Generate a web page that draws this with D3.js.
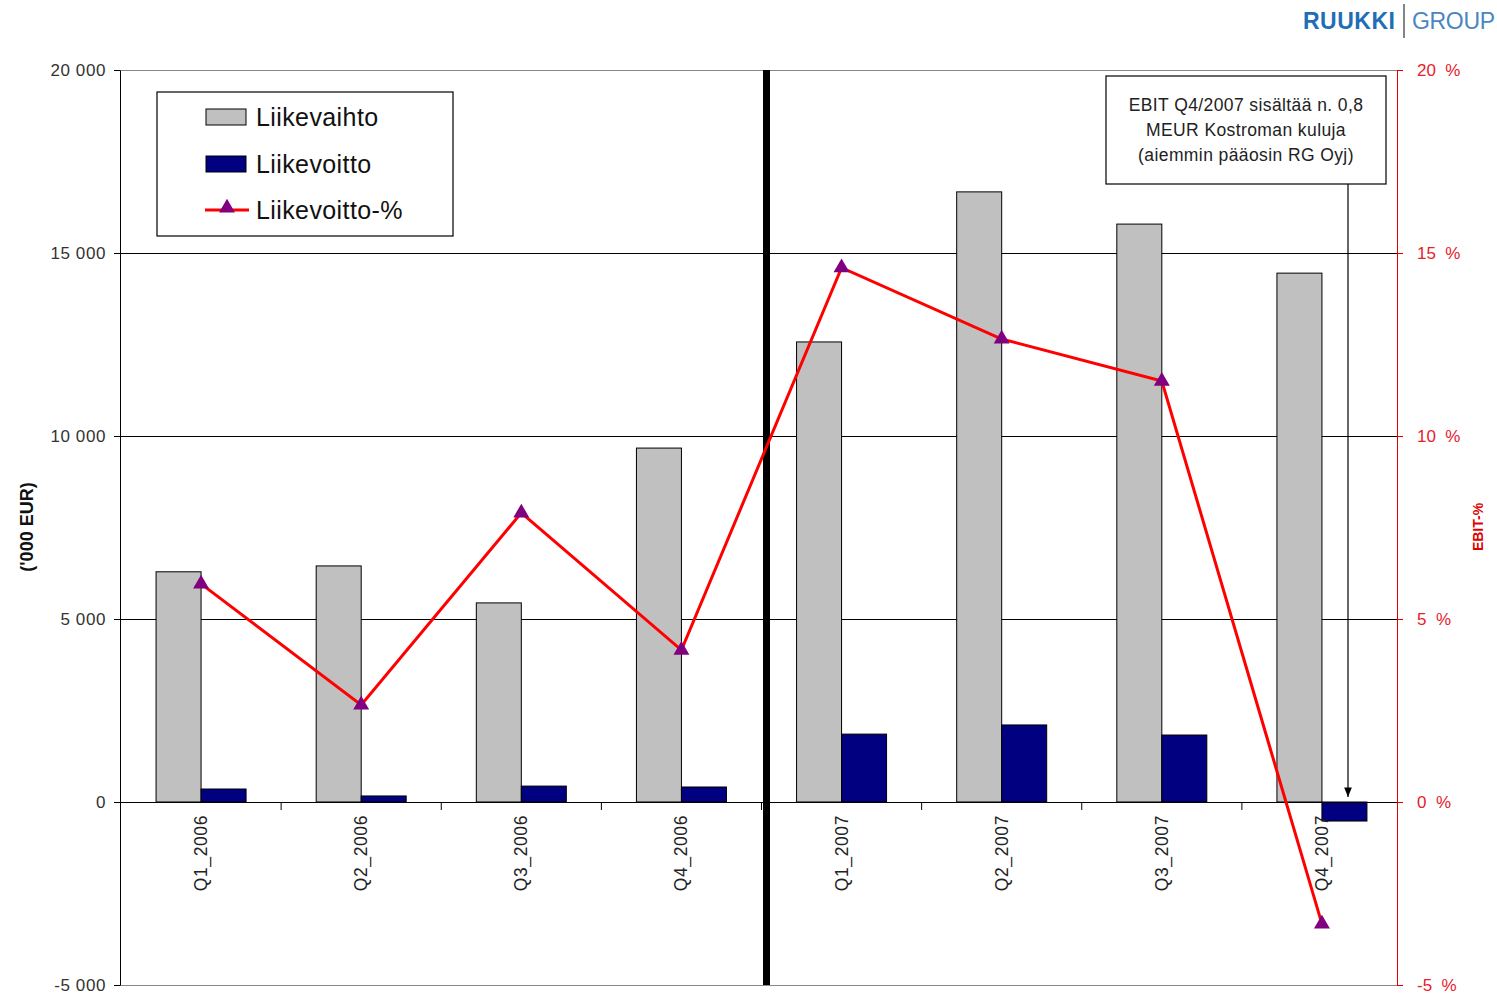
<!DOCTYPE html>
<html><head><meta charset="utf-8">
<script src="https://cdn.jsdelivr.net/npm/d3@7"></script>
<style>body{margin:0;background:#fff;font-family:Arial,"Liberation Sans",sans-serif}</style>
</head><body>
<svg id="c" width="1497" height="1000"></svg>
<script>
const categories = ["Q1_2006","Q2_2006","Q3_2006","Q4_2006","Q1_2007","Q2_2007","Q3_2007","Q4_2007"];
const liikevaihto = [6290, 6450, 5440, 9670, 12570, 16670, 15790, 14450];
const liikevoitto = [355, 165, 435, 410, 1855, 2105, 1830, -520];
const liikevoittoPct = [5.96, 2.65, 7.9, 4.15, 14.6, 12.65, 11.5, -3.33];
const leftTicks = [-5000, 0, 5000, 10000, 15000, 20000];
const rightTicks = [-5, 0, 5, 10, 15, 20];
const legendLabels = ["Liikevaihto", "Liikevoitto", "Liikevoitto-%"];
const noteLines = ["EBIT Q4/2007 sisältää n. 0,8", "MEUR Kostroman kuluja", "(aiemmin pääosin RG Oyj)"];

const svg = d3.select("#c");
const L = 120, R = 1397, T = 70, B = 985;
const x = d3.scaleBand().domain(categories).range([121, 1402]).paddingInner(0).paddingOuter(0);
const yL = d3.scaleLinear().domain([-5000, 20000]).range([B, T]);
const yR = d3.scaleLinear().domain([-5, 20]).range([B, T]);
const fmt = d => String(d).replace(/\B(?=(\d{3})+(?!\d))/g, " ");
const FF = "Arial, Liberation Sans, sans-serif";

// gridlines
svg.append("g").selectAll("line").data(leftTicks).join("line")
  .attr("x1", L).attr("x2", R).attr("y1", d => yL(d)).attr("y2", d => yL(d))
  .attr("stroke", d => (d === 20000 || d === -5000) ? "#888" : "#000").attr("stroke-width", 1)
  .attr("shape-rendering", "crispEdges");

// bars
const bw = 45;
const g = svg.append("g");
g.selectAll("rect.lv").data(categories).join("rect")
  .attr("x", d => x(d) + x.bandwidth()/2 - bw).attr("width", bw)
  .attr("y", (d,i) => yL(Math.max(0, liikevaihto[i])))
  .attr("height", (d,i) => Math.abs(yL(liikevaihto[i]) - yL(0)))
  .attr("fill", "#c0c0c0").attr("stroke", "#000").attr("stroke-width", 1);
g.selectAll("rect.lo").data(categories).join("rect")
  .attr("x", d => x(d) + x.bandwidth()/2).attr("width", bw)
  .attr("y", (d,i) => yL(Math.max(0, liikevoitto[i])))
  .attr("height", (d,i) => Math.abs(yL(liikevoitto[i]) - yL(0)))
  .attr("fill", "#000080").attr("stroke", "#000").attr("stroke-width", 1);

// zero line again on top
svg.append("line").attr("x1", L).attr("x2", R).attr("y1", yL(0)).attr("y2", yL(0))
  .attr("stroke", "#000").attr("shape-rendering", "crispEdges");

// x category ticks
svg.append("g").selectAll("line").data(categories.slice(1)).join("line")
  .attr("x1", d => x(d)).attr("x2", d => x(d)).attr("y1", yL(0)).attr("y2", yL(0)+8)
  .attr("stroke", "#000");

// x labels
svg.append("g").selectAll("text").data(categories).join("text")
  .attr("transform", d => `translate(${x(d) + x.bandwidth()/2 + 6},815) rotate(-90)`)
  .attr("text-anchor", "end").attr("font-size", 17.5).attr("letter-spacing", 0.6)
  .attr("fill", "#222").text(d => d);

// left axis
const la = svg.append("g").attr("transform", `translate(${L},0)`)
  .call(d3.axisLeft(yL).tickValues(leftTicks).tickFormat(fmt).tickSize(6).tickSizeOuter(0));
la.select(".domain").attr("stroke", "#000");
la.selectAll("text").attr("font-size", 17).attr("letter-spacing", 0.6).attr("fill", "#333").attr("font-family", FF).attr("dx", "-5");

// right axis
const ra = svg.append("g").attr("transform", `translate(${R},0)`)
  .call(d3.axisRight(yR).tickValues(rightTicks).tickFormat(d => d + "\u00a0\u00a0%").tickSize(6).tickSizeOuter(0));
ra.select(".domain").attr("stroke", "#e00000");
ra.selectAll("line").attr("stroke", "#e00000");
ra.selectAll("text").attr("font-size", 17).attr("fill", "#e8202a").attr("font-family", FF).attr("dx", "11");

// axis titles
svg.append("text").attr("transform", `translate(33,527) rotate(-90)`).attr("text-anchor", "middle")
  .attr("font-size", 18).attr("font-weight", "bold").attr("fill", "#111").text("('000 EUR)");
svg.append("text").attr("transform", `translate(1483,527) rotate(-90)`).attr("text-anchor", "middle")
  .attr("font-size", 14).attr("font-weight", "bold").attr("fill", "#e00000").text("EBIT-%");

// thick separator
const sepX = x(categories[4]) + 5;
svg.append("line").attr("x1", sepX).attr("x2", sepX).attr("y1", T).attr("y2", B)
  .attr("stroke", "#000").attr("stroke-width", 7);

// percentage line
const cx = d => x(d) + x.bandwidth()/2;
const line = d3.line().x((d,i) => cx(categories[i])).y(d => yR(d));
svg.append("path").datum(liikevoittoPct).attr("d", line).attr("fill", "none")
  .attr("stroke", "#ff0000").attr("stroke-width", 3);
const tri = d3.symbol().type(d3.symbolTriangle).size(110);
svg.append("g").selectAll("path").data(liikevoittoPct).join("path")
  .attr("transform", (d,i) => `translate(${cx(categories[i])},${yR(d)})`)
  .attr("d", tri).attr("fill", "#800080");

// legend
const lg = svg.append("g");
lg.append("rect").attr("x", 157).attr("y", 92).attr("width", 296).attr("height", 144)
  .attr("fill", "#fff").attr("stroke", "#000").attr("stroke-width", 1.2);
const ly = [117, 164, 210];
lg.append("rect").attr("x", 206).attr("y", ly[0]-8).attr("width", 40).attr("height", 16).attr("fill", "#c0c0c0").attr("stroke", "#000");
lg.append("rect").attr("x", 206).attr("y", ly[1]-8).attr("width", 40).attr("height", 16).attr("fill", "#000080").attr("stroke", "#000");
lg.append("line").attr("x1", 205).attr("x2", 249).attr("y1", ly[2]).attr("y2", ly[2]).attr("stroke", "#ff0000").attr("stroke-width", 3);
lg.append("path").attr("transform", `translate(227,${ly[2]-2})`).attr("d", tri).attr("fill", "#800080");
lg.selectAll("text").data(legendLabels).join("text")
  .attr("x", 256).attr("y", (d,i) => ly[i] + 9).attr("font-size", 25).attr("letter-spacing", 0.4)
  .attr("fill", "#111").text(d => d);

// annotation
svg.append("defs").append("marker").attr("id", "ah").attr("viewBox", "0 0 10 10").attr("refX", 10).attr("refY", 5)
  .attr("markerWidth", 8).attr("markerHeight", 8).attr("orient", "auto")
  .append("path").attr("d", "M0,1 L10,5 L0,9 Z").attr("fill", "#000");
svg.append("line").attr("x1", 1348).attr("x2", 1348).attr("y1", 184).attr("y2", yL(0) - 5)
  .attr("stroke", "#000").attr("stroke-width", 1.2).attr("marker-end", "url(#ah)");
svg.append("rect").attr("x", 1106).attr("y", 76).attr("width", 280).attr("height", 108)
  .attr("fill", "#fff").attr("stroke", "#000").attr("stroke-width", 1.2);
svg.append("g").selectAll("text").data(noteLines).join("text")
  .attr("x", 1246).attr("y", (d,i) => 111 + i*25).attr("text-anchor", "middle")
  .attr("font-size", 17.5).attr("letter-spacing", 0.4).attr("fill", "#222").text(d => d);

// logo
svg.append("text").attr("x", 1303).attr("y", 29).attr("font-size", 23).attr("font-weight", "bold")
  .attr("fill", "#1f6fb6").attr("textLength", 92).text("RUUKKI");
svg.append("line").attr("x1", 1404).attr("x2", 1404).attr("y1", 4).attr("y2", 38).attr("stroke", "#333").attr("stroke-width", 1.2);
svg.append("text").attr("x", 1412).attr("y", 29).attr("font-size", 23)
  .attr("fill", "#4a86c0").attr("textLength", 83).text("GROUP");
</script>
</body></html>
